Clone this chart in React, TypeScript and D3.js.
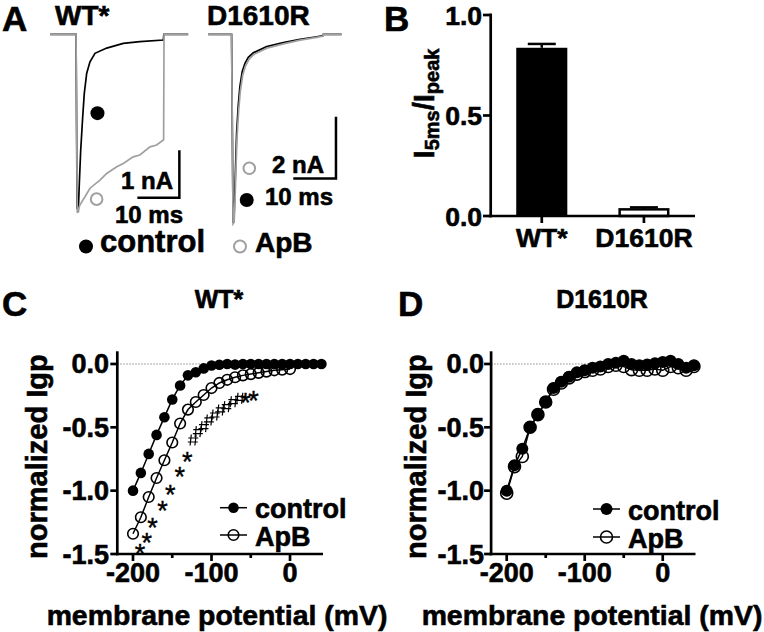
import React from 'react';
import * as d3 from 'd3';

// ---------- Panel A: current traces (time ms, current nA) ----------
const wtControlTrace: [number, number][] = [
  [0, 0], [6.2, 0], [6.45, -3.66], [6.74, -3.7], [6.98, -3.14], [7.31, -2.44], [7.79, -1.73],
  [8.17, -1.24], [8.74, -0.82], [9.52, -0.58], [10.71, -0.4], [13.5, -0.29], [17.45, -0.19],
  [21.4, -0.156], [27.0, -0.12], [27.1, 0], [32.9, 0],
];
const wtApBTrace: [number, number][] = [
  [0, 0], [6.2, 0], [6.5, -3.76], [7.14, -3.59], [8.33, -3.42], [9.52, -3.24], [11.9, -3.07],
  [13.5, -2.93], [15.9, -2.79], [17.45, -2.72], [19.8, -2.58], [21.4, -2.54], [23.8, -2.37],
  [25.4, -2.33], [27.05, -2.22], [27.15, 0], [32.9, 0],
];
const drControlTrace: [number, number][] = [
  [0, 0], [5.45, 0], [5.8, -6.1], [6.0, -6.1], [6.16, -5.38], [6.39, -4.3], [6.63, -3.21],
  [7.0, -2.35], [7.4, -1.7], [7.95, -1.21], [8.59, -0.94], [9.37, -0.75], [10.54, -0.6],
  [13.68, -0.4], [17.56, -0.27], [21.5, -0.16], [25.4, -0.08], [26.9, -0.04], [26.95, 0], [31.2, 0],
];
const drApBTrace: [number, number][] = [
  [0, 0], [5.45, 0], [5.8, -6.15], [6.05, -6.1], [6.25, -5.4], [6.5, -4.3], [6.75, -3.3],
  [7.1, -2.5], [7.5, -1.85], [8.05, -1.33], [8.7, -1.03], [9.5, -0.82], [10.6, -0.66],
  [13.7, -0.45], [17.6, -0.31], [21.5, -0.19], [25.4, -0.1], [26.9, -0.06], [26.95, 0], [31.2, 0],
];

// ---------- Panel B ----------
const barCategories = ['WT*', 'D1610R'];
const barValues = [0.837, 0.033];
const barErrors = [0.019, 0.01];
const yTicksB = [0, 0.5, 1.0];

// ---------- Panels C, D ----------
const voltages = [-200, -190, -180, -170, -160, -150, -140, -130, -120, -110, -100, -90, -80,
  -70, -60, -50, -40, -30, -20, -10, 0, 10, 20, 30, 40];
const voltagesApBC = [-200, -190, -180, -170, -160, -150, -140, -130, -120, -110, -100, -90,
  -80, -70, -60, -50, -40, -30, -20, -10, 0];
const cControl = [-1.0, -0.86, -0.71, -0.56, -0.42, -0.28, -0.17, -0.09, -0.065, -0.035, -0.012,
  -0.006, 0, -0.005, 0, 0, 0, 0, 0, 0, 0, 0, 0, 0, 0];
const cApB = [-1.34, -1.21, -1.05, -0.9, -0.76, -0.62, -0.47, -0.36, -0.3, -0.245, -0.19, -0.15,
  -0.125, -0.105, -0.09, -0.08, -0.07, -0.06, -0.05, -0.045, -0.04];
const dControl = [-1.0, -0.8, -0.67, -0.5, -0.4, -0.3, -0.19, -0.14, -0.1, -0.065, -0.05, -0.03,
  -0.02, 0.0, 0.01, 0.025, 0.0, -0.01, -0.005, 0.005, 0.015, 0.025, 0.0, -0.03, -0.01];
const dApB = [-1.02, -0.81, -0.73, -0.5, -0.4, -0.3, -0.2, -0.15, -0.11, -0.08, -0.06, -0.05,
  -0.04, -0.02, -0.01, -0.02, -0.045, -0.05, -0.05, -0.04, -0.05, -0.02, -0.03, -0.05, -0.02];
const sigMarksC = [
  { v: -191, y: -1.452, s: '*' }, { v: -182.5, y: -1.363, s: '*' }, { v: -175, y: -1.251, s: '*' },
  { v: -162.5, y: -1.113, s: '*' }, { v: -152.5, y: -0.987, s: '*' }, { v: -140.6, y: -0.845, s: '*' },
  { v: -131, y: -0.726, s: '*' },
  { v: -123.2, y: -0.6, s: '#' }, { v: -116.8, y: -0.534, s: '#' }, { v: -109.6, y: -0.495, s: '#' },
  { v: -102.8, y: -0.442, s: '#' }, { v: -95.5, y: -0.403, s: '#' }, { v: -88.3, y: -0.363, s: '#' },
  { v: -80.6, y: -0.337, s: '#' }, { v: -72.2, y: -0.298, s: '#' }, { v: -63.7, y: -0.271, s: '#' },
  { v: -56.7, y: -0.258, s: '*' }, { v: -46.5, y: -0.245, s: '*' },
];
const yTicksIV = [0, -0.5, -1.0, -1.5];
const xTicksIV = [-200, -100, 0];
const xMinorIV = [-150, -50];

const F = "'Liberation Sans', Arial, Helvetica, sans-serif";
const GRAY = '#a0a0a0';
const AX = 2.7;
const bold = { fontFamily: F, fontWeight: 'bold' as const, stroke: '#000', strokeWidth: 0.6, fill: '#000' };

// "#" glyph outline, relative to its centre
const HASH = 'M-2,-5.5L-3.2,5.5M2.8,-5.5L1.6,5.5M-5,-2H5M-5.5,2H4.5';

const yIV = d3.scaleLinear().domain([-1.5, 0.1]).range([554, 351.3]);

function IVPanel(props: {
  x: d3.ScaleLinear<number, number>;
  control: number[];
  apb: number[];
  vApB: number[];
  r: number;
  yLabelX: number;
  labelCenter: number;
  tickRight: number;
  legendX: number;
  legendY: number[];
  marks?: { v: number; y: number; s: string }[];
}) {
  const { x, control, apb, vApB, r } = props;
  const [x0, x1] = x.range();
  const line = d3.line<[number, number]>().x((d) => x(d[0])).y((d) => yIV(d[1]));
  const ctrlPts: [number, number][] = voltages.map((v, i) => [v, control[i]]);
  const apbPts: [number, number][] = vApB.map((v, i) => [v, apb[i]]);
  const yBottom = yIV(-1.5);
  const lx = props.legendX;
  return (
    <g>
      <line x1={x0} x2={x1} y1={yIV(0)} y2={yIV(0)} stroke="#8a8a8a" strokeWidth={1} strokeDasharray="1.5,1.5" />
      <path d={line(apbPts) || ''} fill="none" stroke="#000" strokeWidth={1.5} />
      {apbPts.map((d, i) => (
        <circle key={'a' + i} cx={x(d[0])} cy={yIV(d[1])} r={r} fill="none" stroke="#000" strokeWidth={1.6} />
      ))}
      <path d={line(ctrlPts) || ''} fill="none" stroke="#000" strokeWidth={1.5} />
      {ctrlPts.map((d, i) => (
        <circle key={'c' + i} cx={x(d[0])} cy={yIV(d[1])} r={r} fill="#000" />
      ))}
      {(props.marks || []).map((m, i) =>
        m.s === '*' ? (
          <text key={'m' + i} x={x(m.v)} y={yIV(m.y) + 15} fontSize={27} fontFamily={F} textAnchor="middle"
            fill="#000" stroke="#000" strokeWidth={0.4}>*</text>
        ) : (
          <path key={'m' + i} transform={`translate(${x(m.v)},${yIV(m.y)})`} d={HASH} fill="none"
            stroke="#000" strokeWidth={1.2} />
        )
      )}
      <line x1={x0} x2={x0} y1={yIV(0.1)} y2={yBottom + AX / 2} stroke="#000" strokeWidth={AX} />
      <line x1={x0 - AX / 2} x2={x1} y1={yBottom} y2={yBottom} stroke="#000" strokeWidth={AX} />
      {yTicksIV.map((t) => (
        <g key={'yt' + t}>
          <line x1={x0 - 7} x2={x0} y1={yIV(t)} y2={yIV(t)} stroke="#000" strokeWidth={AX} />
          <text x={props.tickRight} y={yIV(t) + 9.5} fontSize={27} textAnchor="end" {...bold}>
            {t.toFixed(1)}
          </text>
        </g>
      ))}
      {xTicksIV.map((t) => (
        <g key={'xt' + t}>
          <line x1={x(t)} x2={x(t)} y1={yBottom} y2={yBottom + 7} stroke="#000" strokeWidth={AX} />
          <text x={x(t)} y={yBottom + 28} fontSize={27} textAnchor="middle" {...bold}>
            {String(t)}
          </text>
        </g>
      ))}
      {xMinorIV.map((t) => (
        <line key={'xm' + t} x1={x(t)} x2={x(t)} y1={yBottom} y2={yBottom + 4} stroke="#000" strokeWidth={AX} />
      ))}
      <text transform={`translate(${props.yLabelX},${(yIV(0.1) + yBottom) / 2 + 4}) rotate(-90)`} fontSize={29}
        textAnchor="middle" {...bold}>normalized Igp</text>
      <text x={props.labelCenter} y={625} fontSize={28.4} textAnchor="middle" {...bold}>
        membrane potential (mV)
      </text>
      <line x1={lx} x2={lx + 27} y1={props.legendY[0]} y2={props.legendY[0]} stroke="#000" strokeWidth={1.5} />
      <circle cx={lx + 13.5} cy={props.legendY[0]} r={r} fill="#000" />
      <text x={lx + 35} y={props.legendY[0] + 10.5} fontSize={27} {...bold}>control</text>
      <line x1={lx} x2={lx + 27} y1={props.legendY[1]} y2={props.legendY[1]} stroke="#000" strokeWidth={1.5} />
      <circle cx={lx + 13.5} cy={props.legendY[1]} r={r} fill="none" stroke="#000" strokeWidth={1.6} />
      <text x={lx + 35} y={props.legendY[1] + 10.5} fontSize={27} {...bold}>ApB</text>
    </g>
  );
}

export default function App() {
  const xC = d3.scaleLinear().domain([-220, 42]).range([117.3, 323]);
  const xD = d3.scaleLinear().domain([-220, 42]).range([491.1, 695.5]);
  const yB = d3.scaleLinear().domain([0, 1]).range([216, 15]);
  const xB = d3.scaleBand<string>().domain(barCategories).range([490.7, 695]).paddingInner(0.5).paddingOuter(0.25);
  const tWT = d3.scaleLinear().domain([0, 10]).range([50, 92]);
  const iWT = d3.scaleLinear().domain([0, -1]).range([34.3, 81.8]);
  const tDR = d3.scaleLinear().domain([0, 10]).range([208.3, 251]);
  const iDR = d3.scaleLinear().domain([0, -2]).range([34.3, 95.9]);

  const lineWT = d3.line<[number, number]>().x((d) => tWT(d[0])).y((d) => iWT(d[1]));
  const lineDR = d3.line<[number, number]>().x((d) => tDR(d[0])).y((d) => iDR(d[1]));

  const sbWT = { t0: 20.8, i0: -3.44, dt: 10, di: 1 };
  const sbDR = { t0: 19.9, i0: -4.68, dt: 10, di: 2 };

  return (
    <svg width={764} height={632} style={{ position: 'absolute', left: 0, top: 0, background: '#fff' }}>
      <rect x={0} y={0} width={764} height={632} fill="#fff" />
      <text x={2} y={31} fontSize={35} {...bold}>A</text>
      <text x={384} y={31} fontSize={35} {...bold}>B</text>
      <text x={2} y={316} fontSize={35} {...bold}>C</text>
      <text x={398} y={316} fontSize={35} {...bold}>D</text>

      {/* ---------- Panel A ---------- */}
      <text x={55} y={25} fontSize={28} {...bold}>WT*</text>
      <text x={207} y={25} fontSize={28} {...bold}>D1610R</text>
      <path d={lineWT(wtControlTrace) || ''} fill="none" stroke="#000" strokeWidth={1.7} />
      <path d={lineWT(wtApBTrace) || ''} fill="none" stroke={GRAY} strokeWidth={1.7} />
      <path d={lineDR(drControlTrace) || ''} fill="none" stroke="#000" strokeWidth={1.7} />
      <path d={lineDR(drApBTrace) || ''} fill="none" stroke={GRAY} strokeWidth={1.7} />
      <circle cx={tWT(11.3)} cy={iWT(-1.66)} r={7} fill="#000" />
      <circle cx={tWT(11.1)} cy={iWT(-3.47)} r={5.8} fill="none" stroke={GRAY} strokeWidth={2} />
      <circle cx={tDR(9.6)} cy={iDR(-4.35)} r={5.8} fill="none" stroke={GRAY} strokeWidth={2} />
      <circle cx={tDR(9.0)} cy={iDR(-5.38)} r={7} fill="#000" />
      <path d={`M${tWT(sbWT.t0)},${iWT(sbWT.i0)}H${tWT(sbWT.t0 + sbWT.dt)}V${iWT(sbWT.i0 + sbWT.di)}`}
        fill="none" stroke="#000" strokeWidth={2.5} />
      <path d={`M${tDR(sbDR.t0)},${iDR(sbDR.i0)}H${tDR(sbDR.t0 + sbDR.dt)}V${iDR(sbDR.i0 + sbDR.di)}`}
        fill="none" stroke="#000" strokeWidth={2.5} />
      <text x={173} y={189} fontSize={24} textAnchor="end" {...bold}>1 nA</text>
      <text x={115} y={222.5} fontSize={24} {...bold}>10 ms</text>
      <text x={272} y={173} fontSize={24} {...bold}>2 nA</text>
      <text x={265} y={205} fontSize={24} {...bold}>10 ms</text>
      <circle cx={86} cy={246.5} r={7} fill="#000" />
      <text x={100} y={251.5} fontSize={31} {...bold}>control</text>
      <circle cx={240} cy={246.5} r={6} fill="none" stroke={GRAY} strokeWidth={2} />
      <text x={255} y={251.5} fontSize={28} {...bold}>ApB</text>

      {/* ---------- Panel B ---------- */}
      {barCategories.map((c, i) => {
        const bx = xB(c) as number;
        const bw = xB.bandwidth();
        const cx = bx + bw / 2;
        const top = yB(barValues[i]);
        const errTop = yB(barValues[i] + barErrors[i]);
        const filled = i === 0;
        return (
          <g key={c}>
            <line x1={cx} x2={cx} y1={top} y2={errTop} stroke="#000" strokeWidth={2.5} />
            <line x1={cx - 14} x2={cx + 14} y1={errTop} y2={errTop} stroke="#000" strokeWidth={2.5} />
            {filled ? (
              <rect x={bx} y={top} width={bw} height={yB(0) - top} fill="#000" />
            ) : (
              <rect x={bx + 1.25} y={top} width={bw - 2.5} height={yB(0) - top} fill="#fff" stroke="#000" strokeWidth={2.5} />
            )}
            <line x1={cx} x2={cx} y1={yB(0)} y2={yB(0) + 7} stroke="#000" strokeWidth={AX} />
            <text x={cx} y={247} fontSize={26.5} textAnchor="middle" {...bold}>{c}</text>
          </g>
        );
      })}
      <line x1={490.7} x2={490.7} y1={yB(1) - 1.5} y2={yB(0) + AX / 2} stroke="#000" strokeWidth={AX} />
      <line x1={490.7 - AX / 2} x2={695} y1={yB(0)} y2={yB(0)} stroke="#000" strokeWidth={AX} />
      {yTicksB.map((t) => (
        <g key={'bt' + t}>
          <line x1={483} x2={490.7} y1={yB(t)} y2={yB(t)} stroke="#000" strokeWidth={AX} />
          <text x={482} y={yB(t) + 9.5} fontSize={26.5} textAnchor="end" {...bold}>{t.toFixed(1)}</text>
        </g>
      ))}
      <text transform={`translate(434,${(yB(1) + yB(0)) / 2 - 12}) rotate(-90)`} textAnchor="middle" fontSize={29} {...bold}>
        <tspan>I</tspan>
        <tspan fontSize={20} dy={5}>5ms</tspan>
        <tspan dy={-5}>/I</tspan>
        <tspan fontSize={20} dy={5}>peak</tspan>
      </text>

      {/* ---------- Panel C ---------- */}
      <text x={219} y={308} fontSize={25} textAnchor="middle" {...bold}>WT*</text>
      <IVPanel x={xC} control={cControl} apb={cApB} vApB={voltagesApBC} r={5.3} yLabelX={47}
        labelCenter={217} tickRight={109} legendX={220} legendY={[507.7, 535]} marks={sigMarksC} />

      {/* ---------- Panel D ---------- */}
      <text x={602} y={308} fontSize={25} textAnchor="middle" {...bold}>D1610R</text>
      <IVPanel x={xD} control={dControl} apb={dApB} vApB={voltages} r={6} yLabelX={426}
        labelCenter={592} tickRight={484} legendX={593} legendY={[509, 537]} />
    </svg>
  );
}
